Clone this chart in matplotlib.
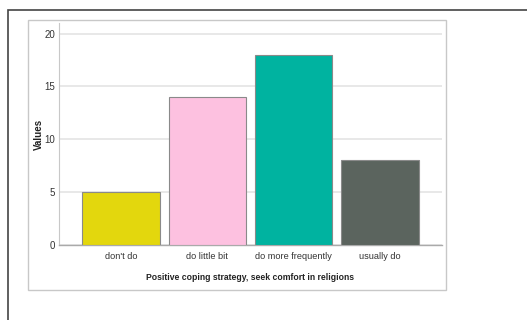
import matplotlib.pyplot as plt
from matplotlib.patches import Rectangle

categories = ["don't do", "do little bit", "do more frequently", "usually do"]
values = [5, 14, 18, 8]
colors = ['#e3d70d', '#fdc1e0', '#00b3a0', '#5b645e']
yticks = [0, 5, 10, 15, 20]

plt.rcParams['font.family'] = ['Liberation Sans', 'DejaVu Sans']

W, H = 527, 320
fig = plt.figure(figsize=(W / 100, H / 100), dpi=100)

# outer dark frame and inner light panel
fig.patches.append(Rectangle((8 / W, -0.2), 1.2, 1.2 - 10 / H, transform=fig.transFigure,
                             fill=False, edgecolor='#444444', linewidth=1.2))
fig.patches.append(Rectangle((28 / W, 1 - 290 / H), (446 - 28) / W, (290 - 20) / H,
                             transform=fig.transFigure, fill=False,
                             edgecolor='#c8c8c8', linewidth=1.0))

ax = fig.add_axes([59 / W, 1 - 245 / H, (442 - 59) / W, (245 - 23) / H])
x = range(len(categories))
ax.bar(x, values, width=0.9, color=colors, edgecolor='#8a8a8a', linewidth=0.8, zorder=3)

ax.set_xlim(-0.72, 3.72)
ax.set_ylim(0, 21)
ax.set_yticks(yticks)
ax.set_xticks(list(x))
ax.set_xticklabels(categories, fontsize=6.6)
ax.yaxis.grid(True, color='#e6e6e6', linewidth=1.3, zorder=0)
ax.tick_params(axis='both', length=0, colors='#333333')
ax.tick_params(axis='y', pad=3, labelsize=7)
ax.tick_params(axis='x', pad=5)

for s in ['top', 'right']:
    ax.spines[s].set_visible(False)
ax.spines['left'].set_color('#c8c8c8')
ax.spines['bottom'].set_color('#aaaaaa')
ax.spines['bottom'].set_linewidth(1.0)

ax.set_xlabel('Positive coping strategy, seek comfort in religions', fontsize=6.2,
              fontweight='bold', color='#222222')
ax.set_ylabel('Values', fontsize=7, fontweight='bold', color='#222222')
ax.xaxis.set_label_coords((250 - 59) / (442 - 59), -(277 - 245) / (245 - 23), transform=ax.transAxes)
ax.yaxis.set_label_coords(-(59 - 39) / (442 - 59), 0.5, transform=ax.transAxes)
ax.xaxis.label.set_va('center')
ax.yaxis.label.set_va('center')

fig.savefig('out.png', dpi=100)
